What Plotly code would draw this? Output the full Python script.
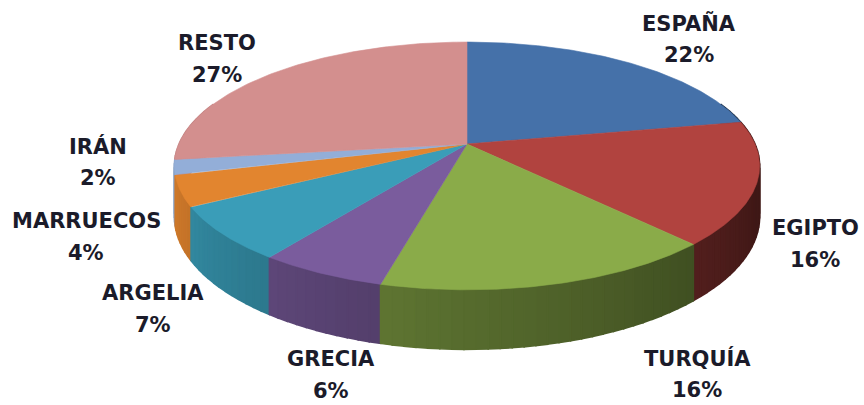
import numpy as np
import plotly.graph_objects as go

# Share of each country (%)
countries = ["ESPAÑA", "EGIPTO", "TURQUÍA", "GRECIA", "ARGELIA", "MARRUECOS", "IRÁN", "RESTO"]
shares = [22, 16, 16, 6, 7, 4, 2, 27]
top_colors = ["#4571a9", "#b1433f", "#8aab49", "#7a5c9d", "#3a9db8", "#e2852f", "#93aed8", "#d38f8e"]

# Label anchor points (centre of the country name), pixel space
label_pos = [(689, 23), (815, 228), (697, 358), (331, 359), (153, 293), (86, 221), (98, 146), (217, 43)]

W, H = 864, 405
# Perspective disc geometry
CX, CY = 467, 144
RX, RY = 288, 120
PERSP = 0.177
DEPTH = 49


def proj(theta, drop=0.0):
    u = np.sin(theta)
    v = -np.cos(theta)
    w = 1.0 / (1.0 - PERSP * v)
    return CX + RX * u * w, CY + (RY * v + DEPTH * drop) * w


def shade(hexcol, f):
    h = hexcol.lstrip("#")
    r, g, b = (int(h[i:i + 2], 16) for i in (0, 2, 4))
    return "rgb({},{},{})".format(int(r * f), int(g * f), int(b * f))


def side_factor(theta_deg):
    return float(np.clip(0.40 + (theta_deg - 120) / 130 * 0.50, 0.36, 0.92))


fig = go.Figure()

cum = np.concatenate([[0], np.cumsum(shares)]) / 100.0 * 2 * np.pi

# Outer wall, built from thin strips so the shading varies around the rim
strips = []
for i, col in enumerate(top_colors):
    a0, a1 = cum[i], cum[i + 1]
    n = max(2, int(np.ceil(np.degrees(a1 - a0) / 2.0)))
    edges = np.linspace(a0, a1, n + 1)
    for ta, tb in zip(edges[:-1], edges[1:]):
        mid = 0.5 * (ta + tb)
        if -np.cos(mid) < -0.35:
            continue
        ts = np.linspace(ta, tb, 4)
        xt, yt = proj(ts)
        xb, yb = proj(ts[::-1], 1.0)
        xs = np.concatenate([xt, xb, xt[:1]])
        ys = np.concatenate([yt, yb, yt[:1]])
        c = shade(col, side_factor(np.degrees(mid)))
        strips.append((-np.cos(mid), xs, ys, c))

strips.sort(key=lambda s: s[0])
for _, xs, ys, c in strips:
    fig.add_trace(go.Scatter(x=xs, y=ys, mode="lines", fill="toself",
                             fillcolor=c, line=dict(color=c, width=1.6),
                             hoverinfo="skip", showlegend=False))

# Top faces of the slices
for i, col in enumerate(top_colors):
    ts = np.linspace(cum[i], cum[i + 1], 120)
    xa, ya = proj(ts)
    xs = np.concatenate([[CX], xa, [CX]])
    ys = np.concatenate([[CY], ya, [CY]])
    fig.add_trace(go.Scatter(x=xs, y=ys, mode="lines", fill="toself",
                             fillcolor=col, line=dict(color=col, width=0.6),
                             hoverinfo="skip", showlegend=False))

# Category and percentage labels
font_face = "DejaVu Sans"
for name, val, (lx, ly) in zip(countries, shares, label_pos):
    fig.add_annotation(x=lx, y=ly, text="<b>{}</b>".format(name), showarrow=False,
                       font=dict(family=font_face, size=21, color="#1b1b2a"),
                       xanchor="center", yanchor="middle")
    fig.add_annotation(x=lx, y=ly + 32, text="<b>{}%</b>".format(val), showarrow=False,
                       font=dict(family=font_face, size=21, color="#1b1b2a"),
                       xanchor="center", yanchor="middle")

fig.update_xaxes(range=[0, W], visible=False, fixedrange=True)
fig.update_yaxes(range=[H, 0], visible=False, fixedrange=True)
fig.update_layout(width=W, height=H, margin=dict(l=0, r=0, t=0, b=0),
                  paper_bgcolor="white", plot_bgcolor="white",
                  showlegend=False, hovermode=False)

fig.write_html("out.html")
